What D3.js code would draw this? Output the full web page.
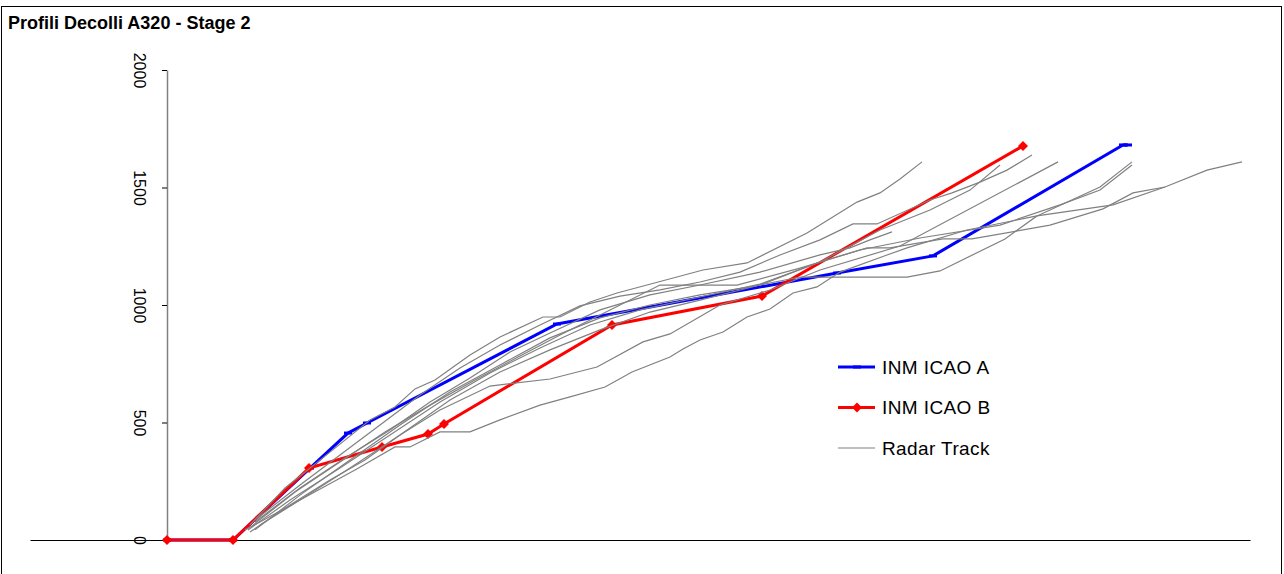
<!DOCTYPE html>
<html>
<head>
<meta charset="utf-8">
<script src="https://cdn.jsdelivr.net/npm/d3@7"></script>
<style>
  body { margin: 0; background: #fff; }
  svg { display: block; font-family: "Liberation Sans", Arial, sans-serif; }
</style>
</head>
<body>
<div id="chart"></div>
<script>
(function(){
// distance (m) / altitude (ft) pairs
const inmA = [[0,0],[1650,0],[3575,306],[4525,455],[5000,498],[9750,919],[16750,1136],[19150,1209],[23900,1681],[24025,1681]];
const inmB = [[0,0],[1650,0],[3550,306],[5375,396],[6525,451],[6925,494],[11125,915],[14875,1038],[21400,1677]];

const track01 = [[2075,64],[2950,221],[4075,374],[5075,511],[5700,566],[6200,643],[6700,681],[7575,787],[8325,864],[9400,949],[9825,949],[10575,1013],[11250,1051],[12000,1085],[13400,1149],[14500,1179],[16000,1306],[17250,1438],[17825,1477],[18325,1536],[18875,1609]];
const track02 = [[2200,85],[3325,234],[4325,362],[5325,489],[6325,617],[7325,732],[8325,830],[9325,915],[10325,996],[11325,1038],[12325,1064],[13325,1098],[14325,1140],[15325,1213],[16325,1277],[17150,1345],[17750,1345],[19075,1447],[19625,1477],[20325,1523],[21000,1574],[21625,1638]];
const track03 = [[2075,34],[3075,149],[4075,255],[4950,340],[5825,447],[6825,553],[8075,655],[9575,685],[10750,736],[11900,843],[12575,877],[13825,1000],[15075,1064],[16325,1149],[18325,1251],[22275,1609]];
const track04 = [[2200,43],[3325,191],[4575,340],[5825,489],[7075,630],[8325,745],[9575,860],[10825,945],[12075,1000],[13325,1043],[14575,1077],[15825,1119],[18500,1119],[19325,1145],[20950,1281],[21750,1379],[23650,1426],[24950,1502]];
const track05 = [[2325,64],[3325,170],[4575,306],[5825,447],[7075,596],[8325,715],[9575,809],[10825,894],[12075,970],[13325,1021],[14825,1085],[16325,1183],[17500,1243],[18075,1243],[19400,1281],[20125,1281],[22075,1340],[23400,1409],[24150,1477],[24950,1502],[26000,1574],[26875,1609]];
const track06 = [[2025,43],[3075,170],[4325,306],[5575,447],[6825,587],[8075,711],[9325,817],[10575,915],[11825,979],[13325,1034],[14825,1089],[16325,1183],[17825,1319],[19075,1404],[20075,1489],[20825,1596]];
const track07 = [[2200,77],[3325,221],[4450,349],[5575,468],[6575,587],[7575,689],[8575,800],[9575,881],[10825,979],[12075,1043],[13325,1085],[14825,1140],[16325,1213],[17075,1243],[17575,1277],[18125,1311]];
const track08 = [[2125,60],[3200,204],[4325,332],[5450,460],[6575,574],[7700,681],[8825,783],[9825,872],[11075,979],[12325,1085],[14250,1085],[15825,1157],[17325,1234],[18825,1285],[20825,1340],[22325,1426],[23325,1489],[24125,1596]];
const track09 = [[1950,43],[2325,77],[3325,170],[4700,298],[5700,396],[6075,396],[6825,460],[7575,460],[8325,511],[9325,574],[10075,609],[10950,651],[11625,715],[12575,779],[12900,813],[13325,851],[13900,885],[14500,949],[15075,983],[15650,1051],[16250,1077],[16825,1140],[18000,1213],[18500,1243],[20000,1319],[21750,1379],[23325,1502],[24125,1609]];
const radarTracks = [track01, track02, track03, track04, track05, track06, track07, track08, track09];

const yTicks = [0, 500, 1000, 1500, 2000];
const legendLabels = ["INM ICAO A", "INM ICAO B", "Radar Track"];

const W = 1284, H = 574;
const svg = d3.select("#chart").append("svg")
    .attr("width", W)
    .attr("height", H);

// outer frame (bottom edge runs off the picture)
svg.append("rect")
    .attr("x", 1.5).attr("y", 6.5)
    .attr("width", 1280).attr("height", 580)
    .attr("fill", "#fff")
    .attr("stroke", "#000")
    .attr("stroke-width", 1);

svg.append("text")
    .attr("x", 8).attr("y", 29)
    .style("font-size", "18px")
    .style("font-weight", "bold")
    .text("Profili Decolli A320 - Stage 2");

const x = d3.scaleLinear().domain([-3425, 27075]).range([30, 1250]);
const y = d3.scaleLinear().domain([0, 2000]).range([540, 70]);

// x axis: plain line, no ticks
svg.append("g")
    .attr("transform", `translate(0,${y(0)})`)
    .call(d3.axisBottom(x).tickValues([]).tickSizeOuter(0))
    .select(".domain")
    .attr("stroke", "#000");

// y axis with rotated labels
const yAxis = svg.append("g")
    .attr("transform", `translate(${x(0)},0)`)
    .call(d3.axisLeft(y).tickValues(yTicks).tickSize(5).tickSizeOuter(0).tickFormat(d3.format("d")));
yAxis.select(".domain").attr("stroke", "#808080").attr("stroke-width", 1.5);
yAxis.selectAll(".tick line").attr("stroke", "#000");
yAxis.selectAll(".tick text")
    .attr("x", 0).attr("y", 0).attr("dy", "0.35em")
    .attr("text-anchor", "middle")
    .attr("transform", "translate(-27,0) rotate(90)")
    .attr("fill", "#000")
    .style("font-size", "16px")
    .style("font-family", "Liberation Sans, Arial, sans-serif");

const line = d3.line().x(d => x(d[0])).y(d => y(d[1]));

// INM ICAO A
svg.append("path")
    .datum(inmA)
    .attr("d", line)
    .attr("fill", "none")
    .attr("stroke", "#0000ff")
    .attr("stroke-width", 3);
svg.selectAll(".mark-a")
    .data(inmA)
    .enter().append("rect")
    .attr("class", "mark-a")
    .attr("x", d => x(d[0]) - 4)
    .attr("y", d => y(d[1]) - 1.5)
    .attr("width", 8).attr("height", 3)
    .attr("fill", "#0000ff");

// INM ICAO B
svg.append("path")
    .datum(inmB)
    .attr("d", line)
    .attr("fill", "none")
    .attr("stroke", "#ff0000")
    .attr("stroke-width", 3);
const diamond = d3.symbol(d3.symbolSquare).size(50);
svg.selectAll(".mark-b")
    .data(inmB)
    .enter().append("path")
    .attr("class", "mark-b")
    .attr("d", diamond)
    .attr("transform", d => `translate(${x(d[0])},${y(d[1])}) rotate(45)`)
    .attr("fill", "#ff0000");

// radar tracks
svg.selectAll(".radar")
    .data(radarTracks)
    .enter().append("path")
    .attr("class", "radar")
    .attr("d", line)
    .attr("fill", "none")
    .attr("stroke", "#808080")
    .attr("stroke-width", 1.2);

// legend
const legend = svg.append("g").attr("transform", "translate(838,367)");
const legendColors = ["#0000ff", "#ff0000", "#808080"];
const legendWidths = [3, 3, 1.2];
legendLabels.forEach((label, i) => {
    const g = legend.append("g").attr("transform", `translate(0,${i * 40.5})`);
    g.append("line")
        .attr("x1", 0).attr("x2", 37)
        .attr("stroke", legendColors[i])
        .attr("stroke-width", legendWidths[i]);
    if (i === 0) {
        g.append("rect").attr("x", 15).attr("y", -1.5).attr("width", 8).attr("height", 3).attr("fill", "#0000ff");
    }
    if (i === 1) {
        g.append("path").attr("d", diamond).attr("transform", "translate(19,0) rotate(45)").attr("fill", "#ff0000");
    }
    g.append("text")
        .attr("x", 44).attr("y", 0).attr("dy", "0.35em")
        .style("font-size", "19px")
        .style("letter-spacing", "0.4px")
        .text(label);
});
})();
</script>
</body>
</html>
